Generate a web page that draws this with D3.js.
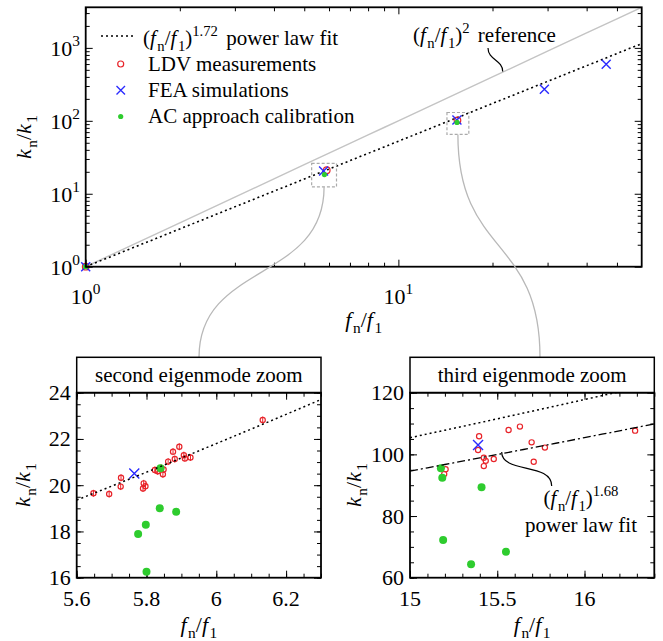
<!DOCTYPE html>
<html>
<head>
<meta charset="utf-8">
<script src="https://cdn.jsdelivr.net/npm/d3@7"></script>
<style>
  body { margin: 0; background: #fff; }
  svg { display: block; }
  svg text { font-family: "Liberation Serif", Tinos, "Times New Roman", Times, "DejaVu Serif", serif; }
</style>
</head>
<body>
<svg id="chart" width="663" height="641" font-family="Liberation Serif, Tinos, Times New Roman, DejaVu Serif, serif"></svg>
<script>
// second eigenmode, [f_n/f_1, k_n/k_1]
const ldv2 = [
  [5.648, 19.65], [5.693, 19.62], [5.727, 20.32], [5.726, 19.94],
  [5.790, 19.86], [5.792, 20.08], [5.797, 19.96], [5.824, 20.66],
  [5.832, 20.60], [5.842, 20.75], [5.847, 20.47], [5.849, 20.68],
  [5.862, 21.02], [5.876, 21.45], [5.881, 21.13], [5.894, 21.66],
  [5.907, 21.30], [5.910, 21.16], [5.926, 21.20], [6.133, 22.82]
];
const ac2 = [
  [5.840, 20.73], [5.838, 19.00], [5.885, 18.85],
  [5.798, 18.29], [5.776, 17.89], [5.800, 16.26]
];
const fea2 = [[5.765, 20.51]];

// third eigenmode
const ldv3 = [
  [15.396, 105.9], [15.39, 101.4], [15.423, 98.9], [15.434, 97.9],
  [15.423, 96.2], [15.48, 98.5], [15.565, 107.9], [15.63, 109.0],
  [15.697, 103.9], [15.709, 97.6], [15.773, 102.2], [16.29, 107.7],
  [15.204, 95.2], [15.196, 93.6]
];
const ac3 = [
  [15.177, 95.5], [15.185, 92.4], [15.41, 89.3],
  [15.19, 72.2], [15.55, 68.4], [15.35, 64.4]
];
const fea3 = [[15.39, 103.0]];

// overview (one mark per mode)
const feaAll = [[1, 1], [5.765, 20.51], [15.39, 103.0], [29.3, 270], [46.2, 598]];
const ldvAll = [[1, 1], [5.9, 21.0], [15.45, 101.5]];
const acAll = [[1, 1], [5.8, 18.3], [15.4, 95]];

const fitExp = 1.72;
const fitExp3 = 1.68;
const refExp = 2;
const ldvErr2 = 0.15;

const mainXTicks = [1, 10];
const mainYTicks = [1, 10, 100, 1000];
const zoom2XTicks = [5.6, 5.8, 6, 6.2];
const zoom2YTicks = [16, 18, 20, 22, 24];
const zoom3XTicks = [15, 15.5, 16];
const zoom3YTicks = [60, 80, 100, 120];
const zoomBoxes = [
  { x: [5.28, 6.34], y: [12.4, 26.1] },
  { x: [14.3, 16.8], y: [65, 130] }
];

const red = "#e8242a", blue = "#2b2bff", green = "#2ecc2e";
const svg = d3.select("#chart");

// text with italic / sub / sup parts
function rich(sel, parts, size) {
  let shift = 0, prev = "";
  parts.forEach(([t, s]) => {
    const want = s === "sub" ? size * 0.28 : s === "sup" ? -size * 0.45 : 0;
    const ts = sel.append("tspan").attr("dy", want - shift).text(t);
    if (prev === "i") ts.attr("dx", 1.5);
    if (prev === "sup") ts.attr("dx", 3);
    shift = want;
    prev = s;
    if (s === "i") ts.attr("font-style", "italic");
    if (s === "sub" || s === "sup") ts.attr("font-size", size * 0.7);
  });
  return sel;
}
const fRatio = [["(", ""], ["f", "i"], ["n", "sub"], ["/", ""], ["f", "i"], ["1", "sub"], [")", ""]];
const fLabel = [["f", "i"], ["n", "sub"], ["/", ""], ["f", "i"], ["1", "sub"]];
const kLabel = [["k", "i"], ["n", "sub"], ["/", ""], ["k", "i"], ["1", "sub"]];

function frame(g, x, y, xMaj, xMin, yMaj, yMin) {
  const [x0, x1] = x.range(), [y0, y1] = y.range();
  const sets = [[xMaj, yMaj, -7], [xMin, yMin, -4]];
  sets.forEach(([xt, yt, len]) => {
    [[d3.axisBottom(x), y0, "x"], [d3.axisTop(x), y1, "x"],
     [d3.axisLeft(y), x0, "y"], [d3.axisRight(y), x1, "y"]].forEach(([ax, p, k]) => {
      const a = g.append("g")
        .attr("transform", k === "x" ? `translate(0,${p})` : `translate(${p},0)`)
        .call(ax.tickValues(k === "x" ? xt : yt).tickSize(len).tickFormat(""));
      a.select(".domain").remove();
      a.selectAll("line").attr("stroke-width", 1);
    });
  });
  g.append("rect")
    .attr("x", x0).attr("y", y1).attr("width", x1 - x0).attr("height", y0 - y1)
    .attr("fill", "none").attr("stroke", "#000").attr("stroke-width", 1.8);
}

function markers(g, x, y, ldv, fea, ac, r, err) {
  if (err) {
    g.selectAll(null).data(ldv).enter().append("line")
      .attr("x1", d => x(d[0])).attr("x2", d => x(d[0]))
      .attr("y1", d => y(d[1] - err)).attr("y2", d => y(d[1] + err))
      .attr("stroke", red).attr("stroke-width", 1);
  }
  g.selectAll(null).data(ldv).enter().append("circle")
    .attr("cx", d => x(d[0])).attr("cy", d => y(d[1])).attr("r", r.c)
    .attr("fill", "none").attr("stroke", red).attr("stroke-width", 1.2);
  g.selectAll(null).data(fea).enter().append("path")
    .attr("d", d => {
      const cx = x(d[0]), cy = y(d[1]), s = r.x;
      return `M${cx - s},${cy - s}L${cx + s},${cy + s}M${cx - s},${cy + s}L${cx + s},${cy - s}`;
    })
    .attr("stroke", blue).attr("stroke-width", 1.4).attr("fill", "none");
  g.selectAll(null).data(ac).enter().append("circle")
    .attr("cx", d => x(d[0])).attr("cy", d => y(d[1])).attr("r", r.g)
    .attr("fill", green);
}

function powerLine(g, x, y, exp, dash, color, width) {
  const xs = x.ticks(20);
  const dom = x.domain();
  const pts = [dom[0]].concat(xs.filter(v => v > dom[0] && v < dom[1]), [dom[1]]);
  g.append("path")
    .attr("d", d3.line().x(d => x(d)).y(d => y(Math.pow(d, exp)))(pts))
    .attr("fill", "none").attr("stroke", color).attr("stroke-width", width)
    .attr("stroke-dasharray", dash);
}

// ---------- main plot ----------
const mx = d3.scaleLog().domain([1, 60]).range([85.7, 641.7]);
const my = d3.scaleLog().domain([1, 3600]).range([266.7, 7.3]);
const mainG = svg.append("g");

const xMinorMain = [2, 3, 4, 5, 6, 7, 8, 9, 20, 30, 40, 50];
const yMinorMain = [];
[1, 10, 100, 1000].forEach(d => [2, 3, 4, 5, 6, 7, 8, 9].forEach(m => { if (d * m < 3600) yMinorMain.push(d * m); }));

// connectors
[[zoomBoxes[0], 199], [zoomBoxes[1], 540]].forEach(([b, ex]) => {
  const sx = (mx(b.x[0]) + mx(b.x[1])) / 2, sy = my(b.y[0]), ey = 357.3;
  const mid = (sy + ey) / 2;
  svg.append("path")
    .attr("d", `M${sx},${sy}C${sx},${mid + 10} ${ex},${mid - 10} ${ex},${ey}`)
    .attr("fill", "none").attr("stroke", "#b8b8b8").attr("stroke-width", 1.3);
});

mainG.append("clipPath").attr("id", "clipMain").append("rect")
  .attr("x", 85.7).attr("y", 7.3).attr("width", 556).attr("height", 259.4);
const mainPlot = mainG.append("g").attr("clip-path", "url(#clipMain)");
powerLine(mainPlot, mx, my, refExp, null, "#c4c4c4", 1.4);
powerLine(mainPlot, mx, my, fitExp, "2,3", "#000", 1.6);

zoomBoxes.forEach(b => {
  mainG.append("rect")
    .attr("x", mx(b.x[0])).attr("y", my(b.y[1]))
    .attr("width", mx(b.x[1]) - mx(b.x[0])).attr("height", my(b.y[0]) - my(b.y[1]))
    .attr("fill", "none").attr("stroke", "#aaa").attr("stroke-width", 1.2)
    .attr("stroke-dasharray", "3,2");
});
markers(mainG, mx, my, ldvAll, feaAll, acAll, { c: 3.3, x: 4.5, g: 2.6 }, 0);
frame(mainG, mx, my, mainXTicks, xMinorMain, mainYTicks, yMinorMain);

mainXTicks.forEach(v => {
  rich(mainG.append("text").attr("x", mx(v)).attr("y", 304).attr("font-size", 22)
    .attr("text-anchor", "middle"),
    [["10", ""], [String(Math.round(Math.log10(v))), "sup"]], 22);
});
mainYTicks.forEach(v => {
  rich(mainG.append("text").attr("x", 80).attr("y", my(v) + 8).attr("font-size", 22)
    .attr("text-anchor", "end"),
    [["10", ""], [String(Math.round(Math.log10(v))), "sup"]], 22);
});
rich(mainG.append("text").attr("x", 363.7).attr("y", 327).attr("font-size", 22)
  .attr("text-anchor", "middle"), fLabel, 22);
rich(mainG.append("text").attr("transform", "translate(31,137) rotate(-90)")
  .attr("font-size", 22).attr("text-anchor", "middle"), kLabel, 22);

// legend
const lg = mainG.append("g");
lg.append("line").attr("x1", 101).attr("x2", 135).attr("y1", 36).attr("y2", 36)
  .attr("stroke", "#000").attr("stroke-width", 1.5).attr("stroke-dasharray", "2,3");
rich(lg.append("text").attr("x", 143).attr("y", 45).attr("font-size", 21),
  fRatio.concat([["1.72", "sup"], [" power law fit", ""]]), 21);
lg.append("circle").attr("cx", 120.7).attr("cy", 64).attr("r", 3)
  .attr("fill", "none").attr("stroke", red).attr("stroke-width", 1.2);
lg.append("path").attr("d", "M116.5,86L125,94.5M116.5,94.5L125,86")
  .attr("stroke", blue).attr("stroke-width", 1.4);
lg.append("circle").attr("cx", 120.7).attr("cy", 116.5).attr("r", 2.6).attr("fill", green);
["LDV measurements", "FEA simulations", "AC approach calibration"].forEach((t, i) => {
  lg.append("text").attr("x", 148).attr("y", 70.5 + i * 26).attr("font-size", 21).text(t);
});

// reference annotation
rich(mainG.append("text").attr("x", 413).attr("y", 42).attr("font-size", 21),
  fRatio.concat([["2", "sup"], [" reference", ""]]), 21);
mainG.append("path").attr("d", "M488,48C488,60 502.7,60 502.7,71.5")
  .attr("fill", "none").attr("stroke", "#000").attr("stroke-width", 1.2);

// ---------- insets ----------
function inset(x, y, title, xMaj, xMin, yMaj, yMin, ldv, fea, ac, err, fmtX) {
  const g = svg.append("g");
  const [x0, x1] = x.range(), [y0, y1] = y.range();
  const id = "clip" + Math.round(x0);
  g.append("clipPath").attr("id", id).append("rect")
    .attr("x", x0).attr("y", y1).attr("width", x1 - x0).attr("height", y0 - y1);
  g.append("rect").attr("x", x0).attr("y", 357.3).attr("width", x1 - x0).attr("height", y1 - 357.3)
    .attr("fill", "#fff").attr("stroke", "#000").attr("stroke-width", 1.5);
  g.append("text").attr("x", (x0 + x1) / 2).attr("y", 382).attr("font-size", 21)
    .attr("text-anchor", "middle").text(title);
  const plot = g.append("g").attr("clip-path", `url(#${id})`);
  markers(plot, x, y, ldv, fea, ac, { c: 2.6, x: 5, g: 4 }, err);
  frame(g, x, y, xMaj, xMin, yMaj, yMin);
  xMaj.forEach(v => g.append("text").attr("x", x(v)).attr("y", 606).attr("font-size", 22)
    .attr("text-anchor", "middle").text(fmtX(v)));
  yMaj.forEach(v => g.append("text").attr("x", x0 - 6).attr("y", y(v) + 7.5).attr("font-size", 22)
    .attr("text-anchor", "end").text(v));
  rich(g.append("text").attr("x", (x0 + x1) / 2).attr("y", 632).attr("font-size", 22)
    .attr("text-anchor", "middle"), fLabel, 22);
  return { g, plot };
}

const zx2 = d3.scaleLinear().domain([5.6, 6.3]).range([76.7, 321]);
const zy2 = d3.scaleLinear().domain([16, 24]).range([577.7, 392.7]);
const in2 = inset(zx2, zy2, "second eigenmode zoom", zoom2XTicks,
  d3.range(5.6, 6.31, 0.05), zoom2YTicks, d3.range(16, 24.01, 0.5),
  ldv2, fea2, ac2, ldvErr2, v => (v === 6 ? "6" : v.toFixed(1)));
powerLine(in2.plot, zx2, zy2, fitExp, "2,3", "#000", 1.5);
in2.plot.raise();
rich(in2.g.append("text").attr("transform", "translate(30,485) rotate(-90)")
  .attr("font-size", 22).attr("text-anchor", "middle"), kLabel, 22);

const zx3 = d3.scaleLinear().domain([15, 16.4]).range([410, 654.3]);
const zy3 = d3.scaleLinear().domain([60, 120]).range([577.7, 392.7]);
const in3 = inset(zx3, zy3, "third eigenmode zoom", zoom3XTicks,
  d3.range(15, 16.41, 0.1), zoom3YTicks, d3.range(60, 120.1, 5),
  ldv3, fea3, ac3, 0, v => String(v));
powerLine(in3.plot, zx3, zy3, fitExp, "2,3", "#000", 1.5);
powerLine(in3.plot, zx3, zy3, fitExp3, "8,3,2,3", "#000", 1.3);
rich(in3.g.append("text").attr("transform", "translate(361,485) rotate(-90)")
  .attr("font-size", 22).attr("text-anchor", "middle"), kLabel, 22);
in3.g.append("path").attr("d", "M501.7,452C501.7,474 551.7,462 551.7,486")
  .attr("fill", "none").attr("stroke", "#000").attr("stroke-width", 1.2);
rich(in3.g.append("text").attr("x", 581).attr("y", 505).attr("font-size", 21)
  .attr("text-anchor", "middle"), fRatio.concat([["1.68", "sup"]]), 21);
in3.g.append("text").attr("x", 581).attr("y", 532).attr("font-size", 21)
  .attr("text-anchor", "middle").text("power law fit");
</script>
</body>
</html>
